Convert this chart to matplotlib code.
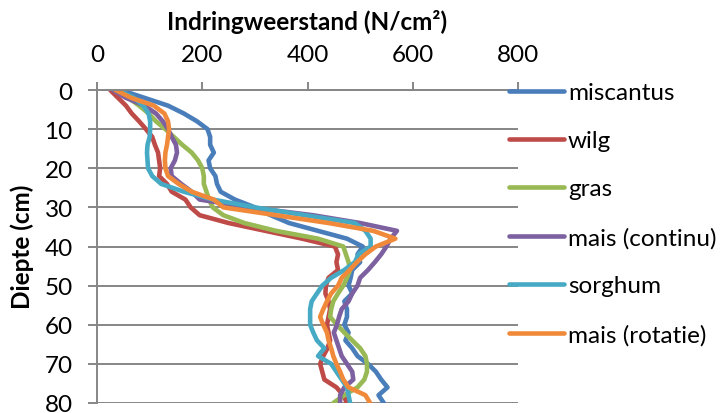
import matplotlib
matplotlib.use('Agg')
import matplotlib.pyplot as plt

plt.rcParams['font.family'] = ['Lato', 'DejaVu Sans']

# diepte in cm, stap 2 cm
diepte = list(range(0, 81, 2))

miscantus = [45, 90, 135, 165, 190, 210, 215, 215, 222, 212, 215, 225, 228, 235, 262, 300,
             330, 365, 420, 475, 505, 495, 500, 485, 482, 478, 485, 470, 475, 475, 470, 478,
             472, 485, 495, 515, 530, 540, 552, 535, 545]
wilg = [25, 40, 55, 66, 80, 93, 105, 110, 116, 118, 120, 118, 133, 142, 168, 178,
        195, 250, 320, 390, 452, 458, 455, 458, 440, 435, 434, 440, 443, 440, 437, 440,
        443, 438, 430, 424, 428, 432, 455, 468, 475]
gras = [35, 60, 80, 98, 112, 130, 146, 162, 180, 192, 200, 203, 203, 208, 213, 220,
        240, 280, 340, 420, 468, 473, 478, 481, 475, 468, 458, 449, 445, 443, 456, 470,
        485, 500, 510, 513, 513, 508, 495, 470, 449]
mais_continu = [30, 55, 90, 112, 125, 135, 142, 150, 152, 148, 140, 142, 160, 180, 195, 290,
                410, 500, 570, 558, 550, 540, 528, 515, 500, 495, 485, 478, 465, 460, 456, 450,
                455, 460, 465, 475, 485, 487, 470, 462, 462]
sorghum = [40, 70, 88, 98, 101, 101, 100, 96, 95, 96, 97, 105, 122, 165, 220, 300,
           395, 490, 510, 520, 520, 497, 490, 470, 445, 428, 418, 408, 405, 405, 405, 411,
           418, 432, 420, 445, 455, 465, 475, 478, 481]
mais_rotatie = [35, 65, 108, 128, 135, 137, 135, 133, 130, 129, 130, 135, 155, 180, 222, 240,
                340, 440, 525, 567, 530, 510, 494, 480, 465, 458, 445, 437, 430, 424, 430, 437,
                440, 445, 449, 455, 462, 468, 478, 510, 519]

reeksen = [('miscantus', miscantus, '#4A7EBB'),
           ('wilg', wilg, '#BE4B48'),
           ('gras', gras, '#98B954'),
           ('mais (continu)', mais_continu, '#7D60A0'),
           ('sorghum', sorghum, '#46AAC5'),
           ('mais (rotatie)', mais_rotatie, '#F08A3A')]

x_ticks = [0, 200, 400, 600, 800]
y_ticks = [0, 10, 20, 30, 40, 50, 60, 70, 80]

fs = 17.5
fig = plt.figure(figsize=(7.25, 4.14), dpi=100)
ax = fig.add_axes([97 / 725, 1 - 404 / 414, (518 - 97) / 725, (404 - 91) / 414])

grijs = '#868686'
for naam, waarden, kleur in reeksen:
    ax.plot(waarden, diepte, color=kleur, lw=3.3, label=naam,
            solid_capstyle='round', solid_joinstyle='round')

ax.set_xlim(0, 800)
ax.set_ylim(80, 0)
ax.set_xticks(x_ticks)
ax.set_yticks(y_ticks)
ax.xaxis.tick_top()
ax.yaxis.grid(True, color=grijs, lw=1.4)
ax.set_axisbelow(True)
for kant in ['right', 'bottom']:
    ax.spines[kant].set_visible(False)
for kant in ['top', 'left']:
    ax.spines[kant].set_color(grijs)
    ax.spines[kant].set_linewidth(1.4)
ax.tick_params(axis='x', direction='out', length=6, width=1.4, color=grijs, pad=12, labelsize=fs)
ax.tick_params(axis='y', direction='out', length=6.5, width=1.4, color=grijs, pad=11, labelsize=fs)

fig.text(307.5 / 725, 1 - 22 / 414, 'Indringweerstand (N/cm²)', ha='center', va='center',
         fontsize=fs, fontweight='bold')
fig.text(22 / 725, 1 - 247 / 414, 'Diepte (cm)', ha='center', va='center', rotation=90,
         fontsize=fs, fontweight='bold')

fig.legend(loc='upper left', bbox_to_anchor=(509 / 725, 1 - 83 / 414), frameon=False,
           fontsize=fs, handlelength=2.26, handletextpad=0.16, labelspacing=1.12,
           borderpad=0, borderaxespad=0)

fig.savefig('out.png', dpi=100)
